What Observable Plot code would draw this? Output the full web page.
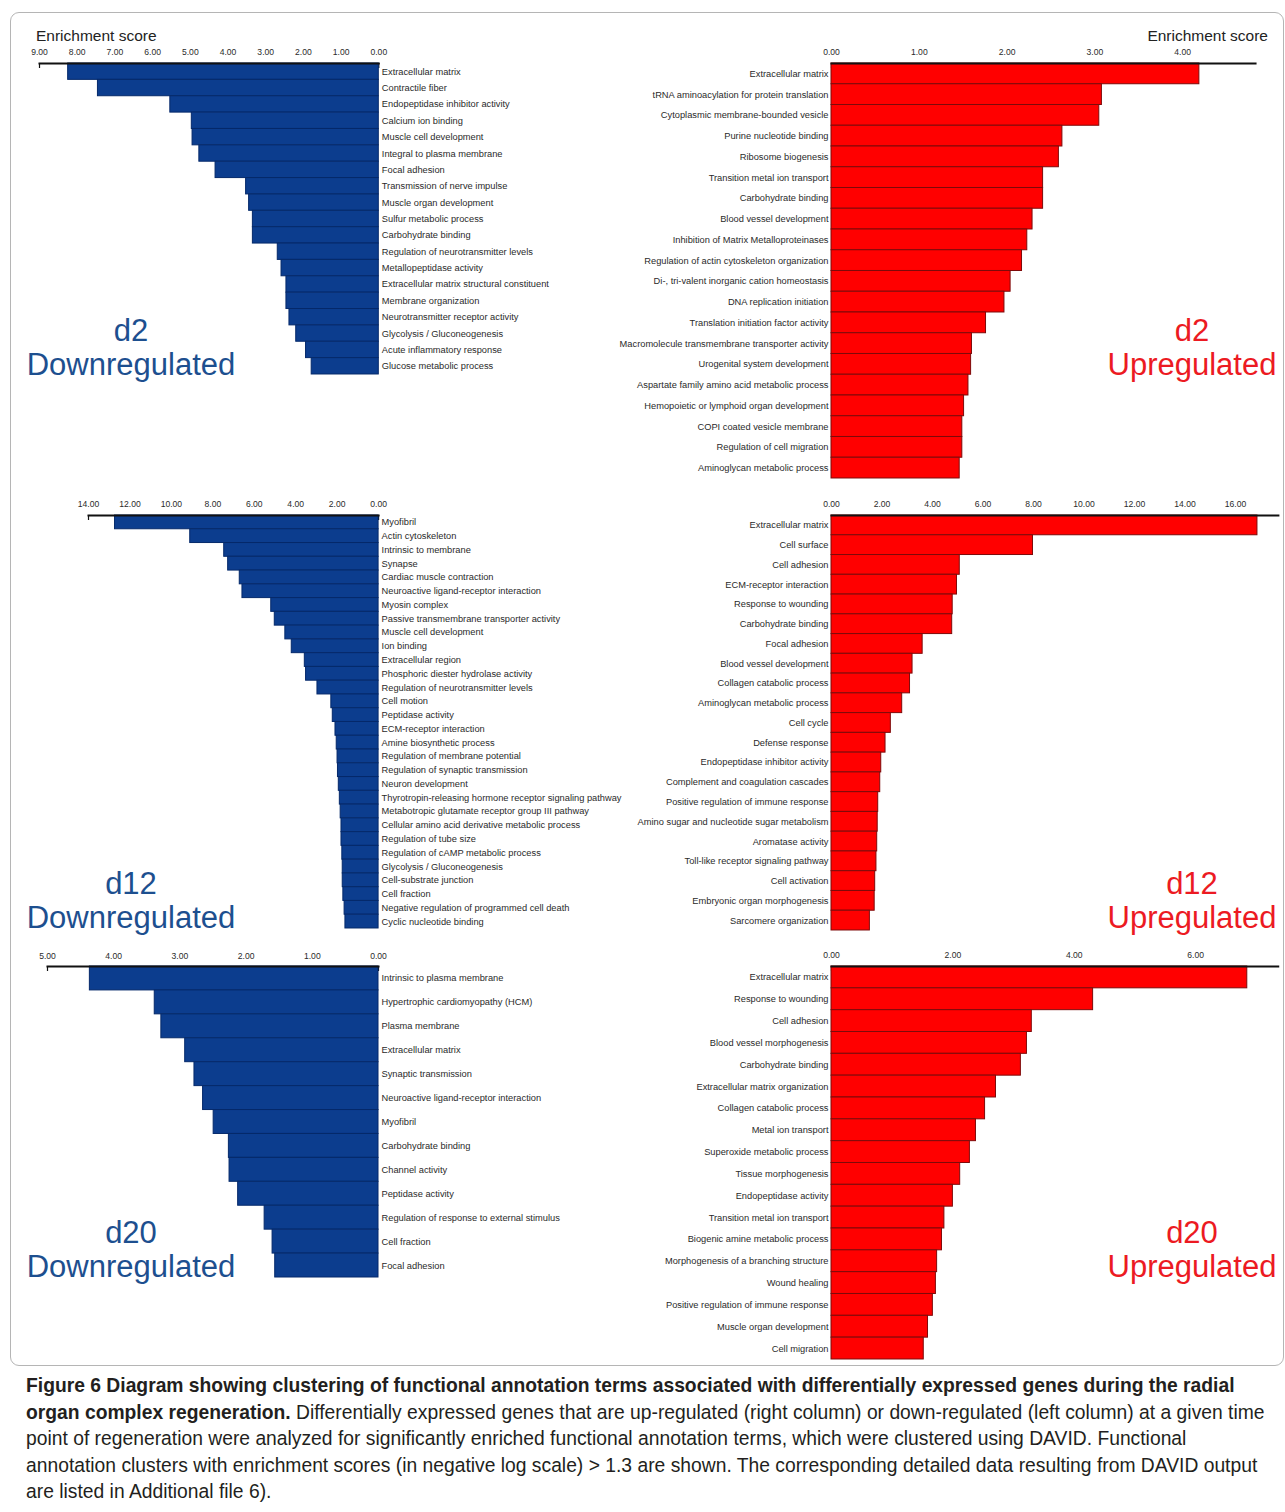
<!DOCTYPE html>
<html>
<head>
<meta charset="utf-8">
<script src="https://cdn.jsdelivr.net/npm/d3@7"></script>
<script src="https://cdn.jsdelivr.net/npm/@observablehq/plot@0.6"></script>
<style>
  body { margin: 0; background: #fff; font-family: "Liberation Sans", Arial, sans-serif; }
  #fig { position: relative; width: 1285px; height: 1512px; overflow: hidden; }
  #border { position: absolute; left: 10px; top: 12px; width: 1274px; height: 1354px; border: 1px solid #b5b5b5; border-radius: 9px; box-sizing: border-box; }
  .big { position: absolute; width: 280px; font-size: 31px; line-height: 34px; text-align: center; white-space: nowrap; }
  .es { position: absolute; font-size: 15.5px; line-height: 1; color: #222; white-space: nowrap; }
  #caption { position: absolute; left: 26px; top: 1373px; font-size: 19.3px; line-height: 26.5px; color: #231f20; white-space: nowrap; }
  svg text { font-family: "Liberation Sans", Arial, sans-serif; }
</style>
</head>
<body>
<div id="fig">
  <div id="border"></div>
</div>
<script>
// ---------------- data ----------------
const d2DownTerms = ["Extracellular matrix","Contractile fiber","Endopeptidase inhibitor activity","Calcium ion binding","Muscle cell development","Integral to plasma membrane","Focal adhesion","Transmission of nerve impulse","Muscle organ development","Sulfur metabolic process","Carbohydrate binding","Regulation of neurotransmitter levels","Metallopeptidase activity","Extracellular matrix structural constituent","Membrane organization","Neurotransmitter receptor activity","Glycolysis / Gluconeogenesis","Acute inflammatory response","Glucose metabolic process"];
const d2DownScores = [8.24,7.45,5.53,4.96,4.94,4.76,4.33,3.52,3.44,3.34,3.34,2.68,2.58,2.45,2.45,2.37,2.19,1.93,1.78];

const d2UpTerms = ["Extracellular matrix","tRNA aminoacylation for protein translation","Cytoplasmic membrane-bounded vesicle","Purine nucleotide binding","Ribosome biogenesis","Transition metal ion transport","Carbohydrate binding","Blood vessel development","Inhibition of Matrix Metalloproteinases","Regulation of actin cytoskeleton organization","Di-, tri-valent inorganic cation homeostasis","DNA replication initiation","Translation initiation factor activity","Macromolecule transmembrane transporter activity","Urogenital system development","Aspartate family amino acid metabolic process","Hemopoietic or lymphoid organ development","COPI coated vesicle membrane","Regulation of cell migration","Aminoglycan metabolic process"];
const d2UpScores = [4.19,3.08,3.05,2.63,2.59,2.41,2.41,2.29,2.23,2.17,2.04,1.97,1.76,1.60,1.59,1.56,1.51,1.49,1.49,1.46];

const d12DownTerms = ["Myofibril","Actin cytoskeleton","Intrinsic to membrane","Synapse","Cardiac muscle contraction","Neuroactive ligand-receptor interaction","Myosin complex","Passive transmembrane transporter activity","Muscle cell development","Ion binding","Extracellular region","Phosphoric diester hydrolase activity","Regulation of neurotransmitter levels","Cell motion","Peptidase activity","ECM-receptor interaction","Amine biosynthetic process","Regulation of membrane potential","Regulation of synaptic transmission","Neuron development","Thyrotropin-releasing hormone receptor signaling pathway","Metabotropic glutamate receptor group III pathway","Cellular amino acid derivative metabolic process","Regulation of tube size","Regulation of cAMP metabolic process","Glycolysis / Gluconeogenesis","Cell-substrate junction","Cell fraction","Negative regulation of programmed cell death","Cyclic nucleotide binding"];
const d12DownScores = [12.72,9.09,7.45,7.26,6.70,6.57,5.18,5.01,4.50,4.19,3.56,3.50,2.95,2.28,2.21,2.08,2.02,1.98,1.96,1.92,1.87,1.83,1.79,1.79,1.75,1.73,1.73,1.70,1.64,1.60];

const d12UpTerms = ["Extracellular matrix","Cell surface","Cell adhesion","ECM-receptor interaction","Response to wounding","Carbohydrate binding","Focal adhesion","Blood vessel development","Collagen catabolic process","Aminoglycan metabolic process","Cell cycle","Defense response","Endopeptidase inhibitor activity","Complement and coagulation cascades","Positive regulation of immune response","Amino sugar and nucleotide sugar metabolism","Aromatase activity","Toll-like receptor signaling pathway","Cell activation","Embryonic organ morphogenesis","Sarcomere organization"];
const d12UpScores = [16.87,7.98,5.08,4.97,4.80,4.78,3.61,3.21,3.11,2.80,2.35,2.14,1.97,1.93,1.85,1.83,1.81,1.78,1.73,1.71,1.52];

const d20DownTerms = ["Intrinsic to plasma membrane","Hypertrophic cardiomyopathy (HCM)","Plasma membrane","Extracellular matrix","Synaptic transmission","Neuroactive ligand-receptor interaction","Myofibril","Carbohydrate binding","Channel activity","Peptidase activity","Regulation of response to external stimulus","Cell fraction","Focal adhesion"];
const d20DownScores = [4.36,3.38,3.28,2.92,2.78,2.65,2.49,2.26,2.25,2.12,1.72,1.60,1.56];

const d20UpTerms = ["Extracellular matrix","Response to wounding","Cell adhesion","Blood vessel morphogenesis","Carbohydrate binding","Extracellular matrix organization","Collagen catabolic process","Metal ion transport","Superoxide metabolic process","Tissue morphogenesis","Endopeptidase activity","Transition metal ion transport","Biogenic amine metabolic process","Morphogenesis of a branching structure","Wound healing","Positive regulation of immune response","Muscle organ development","Cell migration"];
const d20UpScores = [6.85,4.31,3.30,3.22,3.12,2.71,2.53,2.38,2.28,2.12,2.00,1.86,1.82,1.74,1.72,1.67,1.59,1.52];

const ticksD2Down = [0,1,2,3,4,5,6,7,8,9];
const ticksD2Up = [0,1,2,3,4];
const ticksD12Down = [0,2,4,6,8,10,12,14];
const ticksD12Up = [0,2,4,6,8,10,12,14,16];
const ticksD20Down = [0,1,2,3,4,5];
const ticksD20Up = [0,2,4,6];

const panelTitles = [["d2","Downregulated"],["d2","Upregulated"],["d12","Downregulated"],["d12","Upregulated"],["d20","Downregulated"],["d20","Upregulated"]];
const axisTitle = "Enrichment score";

// ---------------- layout / style ----------------
const BLUE = "#0c3d8e", BLUE_STROKE = "#05296a", BLUE_TEXT = "#1d4f8f";
const RED = "#ff0000", RED_STROKE = "#7d0a0a", RED_TEXT = "#ec1a22";

const panels = [
  {terms: d2DownTerms, scores: d2DownScores, ticks: ticksD2Down, side: "left", x0: 378, ppu: 37.7, max: 9, axisY: 63, bottom: 374},
  {terms: d2UpTerms, scores: d2UpScores, ticks: ticksD2Up, side: "right", x0: 831, ppu: 87.8, max: 4.83, axisY: 63, bottom: 478},
  {terms: d12DownTerms, scores: d12DownScores, ticks: ticksD12Down, side: "left", x0: 378, ppu: 20.72, max: 14, axisY: 515, bottom: 928},
  {terms: d12UpTerms, scores: d12UpScores, ticks: ticksD12Up, side: "right", x0: 831, ppu: 25.25, max: 17.7, axisY: 515, bottom: 930},
  {terms: d20DownTerms, scores: d20DownScores, ticks: ticksD20Down, side: "left", x0: 378, ppu: 66.2, max: 5, axisY: 966, bottom: 1277},
  {terms: d20UpTerms, scores: d20UpScores, ticks: ticksD20Up, side: "right", x0: 831, ppu: 60.7, max: 7.36, axisY: 966, bottom: 1359}
];
const labelTops = [314, 314, 867, 867, 1216, 1216];

const fig = document.getElementById("fig");
const fmt = d3.format(".2f");

panels.forEach((p, i) => {
  const left = p.side === "left";
  const frameW = p.max * p.ppu;
  const frameH = p.bottom - p.axisY;
  const mTop = 22, mBottom = 3;
  const mLeft = left ? 8 : 240;
  const mRight = left ? 270 : 6;
  const width = mLeft + frameW + mRight;
  const height = mTop + frameH + mBottom;
  const data = p.terms.map((t, k) => ({term: t, score: p.scores[k]}));
  const svg = Plot.plot({
    width, height,
    marginTop: mTop, marginBottom: mBottom, marginLeft: mLeft, marginRight: mRight,
    style: {background: "transparent", color: "#2a2a2a", overflow: "visible"},
    x: {domain: [0, p.max], reverse: left, axis: null},
    y: {domain: p.terms, padding: 0, round: false, axis: null},
    marks: [
      Plot.ruleX(p.ticks, {x: d => d, stroke: "#111", strokeWidth: 1.2, insetBottom: frameH - 5}),
      Plot.barX(data, {x: "score", y: "term", fill: left ? BLUE : RED, stroke: left ? BLUE_STROKE : RED_STROKE, strokeWidth: 1}),
      Plot.frame({anchor: "top", stroke: "#111", strokeWidth: 2}),
      Plot.axisX({anchor: "top", ticks: p.ticks, tickFormat: fmt, tickSize: 0, tickPadding: 8, fontSize: 8.6, label: null}),
      Plot.axisY({anchor: left ? "right" : "left", tickSize: 0, tickPadding: 3, fontSize: 9.3, label: null})
    ]
  });
  svg.style.position = "absolute";
  svg.style.left = ((left ? p.x0 - frameW : p.x0) - mLeft) + "px";
  svg.style.top = (p.axisY - mTop) + "px";
  fig.appendChild(svg);

  const lab = document.createElement("div");
  lab.className = "big";
  lab.style.left = ((left ? 131 : 1192) - 140) + "px";
  lab.style.top = labelTops[i] + "px";
  lab.style.color = left ? BLUE_TEXT : RED_TEXT;
  lab.innerHTML = panelTitles[i][0] + "<br>" + panelTitles[i][1];
  fig.appendChild(lab);
});

const es1 = document.createElement("div");
es1.className = "es"; es1.style.left = "36px"; es1.style.top = "28px"; es1.textContent = axisTitle;
fig.appendChild(es1);
const es2 = document.createElement("div");
es2.className = "es"; es2.style.right = "17px"; es2.style.top = "28px"; es2.textContent = axisTitle;
fig.appendChild(es2);

const cap = document.createElement("div");
cap.id = "caption";
cap.innerHTML = "<b>Figure 6 Diagram showing clustering of functional annotation terms associated with differentially expressed genes during the radial</b><br>" +
  "<b>organ complex regeneration.</b> Differentially expressed genes that are up-regulated (right column) or down-regulated (left column) at a given time<br>" +
  "point of regeneration were analyzed for significantly enriched functional annotation terms, which were clustered using DAVID. Functional<br>" +
  "annotation clusters with enrichment scores (in negative log scale) &gt; 1.3 are shown. The corresponding detailed data resulting from DAVID output<br>" +
  "are listed in Additional file 6).";
fig.appendChild(cap);
</script>
</body>
</html>
